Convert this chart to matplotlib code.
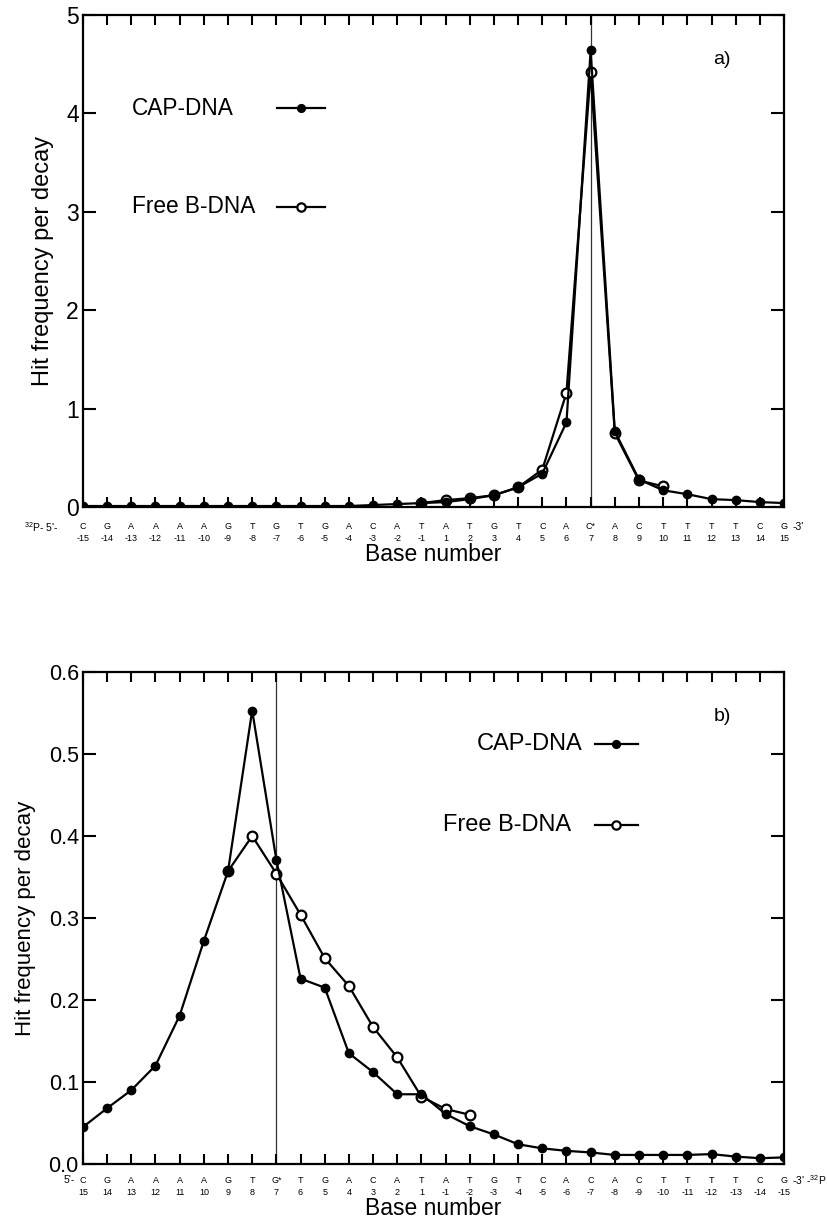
"""Hit frequency per decay along the sequence, CAP-DNA vs free B-DNA (two strands)."""

import matplotlib
matplotlib.use("Agg")
import matplotlib.pyplot as plt

plt.rcParams["font.family"] = ["Liberation Sans", "DejaVu Sans"]
plt.rcParams["mathtext.fontset"] = "custom"
plt.rcParams["mathtext.rm"] = "Liberation Sans"

# panel a) -- labelled C* strand
top_bases = ["C", "G", "A", "A", "A", "A", "G", "T", "G", "T", "G", "A", "C", "A", "T",
             "A", "T", "G", "T", "C", "A", "C*", "A", "C", "T", "T", "T", "T", "C", "G"]
top_nums = ["-15", "-14", "-13", "-12", "-11", "-10", "-9", "-8", "-7", "-6", "-5", "-4",
            "-3", "-2", "-1", "1", "2", "3", "4", "5", "6", "7", "8", "9", "10", "11",
            "12", "13", "14", "15"]
top_cap = [0.01, 0.01, 0.01, 0.01, 0.01, 0.01, 0.01, 0.01, 0.01, 0.01, 0.01, 0.01,
           0.02, 0.03, 0.04, 0.05, 0.08, 0.12, 0.20, 0.34, 0.86, 4.64, 0.77, 0.28,
           0.17, 0.13, 0.08, 0.07, 0.05, 0.04]
top_free_start = 14
top_free = [0.04, 0.07, 0.09, 0.12, 0.20, 0.38, 1.16, 4.42, 0.75, 0.27, 0.21]
top_mark = 21

# panel b) -- labelled G* strand
bot_bases = ["C", "G", "A", "A", "A", "A", "G", "T", "G*", "T", "G", "A", "C", "A", "T",
             "A", "T", "G", "T", "C", "A", "C", "A", "C", "T", "T", "T", "T", "C", "G"]
bot_nums = ["15", "14", "13", "12", "11", "10", "9", "8", "7", "6", "5", "4", "3", "2",
            "1", "-1", "-2", "-3", "-4", "-5", "-6", "-7", "-8", "-9", "-10", "-11",
            "-12", "-13", "-14", "-15"]
bot_cap = [0.045, 0.068, 0.090, 0.120, 0.181, 0.272, 0.357, 0.553, 0.371, 0.226,
           0.215, 0.135, 0.112, 0.085, 0.085, 0.061, 0.046, 0.036, 0.024, 0.019,
           0.016, 0.014, 0.011, 0.011, 0.011, 0.011, 0.012, 0.009, 0.007, 0.008]
bot_free_start = 6
bot_free = [0.357, 0.400, 0.354, 0.304, 0.251, 0.217, 0.167, 0.130, 0.082, 0.067, 0.060]
bot_mark = 8


def panel(ax, bases, nums, cap, free, free_start, mark, ymax, yticks, yfmt,
          left_end, right_end, tag, leg, ytick_fs, ylab_fs, ylab_pad, xpad, leg_fs,
          end_y, end_x):
    x = list(range(len(cap)))
    xf = list(range(free_start, free_start + len(free)))
    ax.axvline(mark, color="#333333", lw=0.9, zorder=1)
    ax.plot(xf, free, "-o", color="black", lw=1.6, ms=7, mfc="white",
            mec="black", mew=1.6, zorder=2)
    ax.plot(x, cap, "-o", color="black", lw=1.6, ms=6, zorder=3)

    ax.set_xlim(0, len(cap) - 1)
    ax.set_ylim(0, ymax)
    ax.set_xticks(x)
    ax.set_xticklabels([f"{b}\n{n}" for b, n in zip(bases, nums)],
                       fontsize=6.5, linespacing=1.45)
    ax.set_yticks(yticks)
    ax.set_yticklabels([yfmt.format(v) for v in yticks], fontsize=ytick_fs)
    ax.tick_params(axis="x", direction="in", top=True, length=7, width=1.5, pad=xpad)
    ax.tick_params(axis="y", direction="in", right=True, length=9.5, width=1.5, pad=3)
    for s in ax.spines.values():
        s.set_linewidth(1.6)

    ax.set_xlabel("Base number", fontsize=16.5, labelpad=0)
    ax.set_ylabel("Hit frequency per decay", fontsize=ylab_fs, labelpad=ylab_pad)

    ax.text(end_x, end_y, left_end, transform=ax.transAxes, fontsize=7.5,
            ha="right", va="center")
    ax.text(1.012, end_y, right_end, transform=ax.transAxes, fontsize=7.5,
            ha="left", va="center")
    ax.text(0.899, 0.909, tag, transform=ax.transAxes, fontsize=14, va="center")

    # hand-drawn key: label on the left, line sample on the right
    for (tx, ty, lx0, lx1, text, filled) in leg:
        ax.text(tx, ty, text, transform=ax.transAxes, fontsize=leg_fs, va="center")
        ax.plot([lx0, lx1], [ty, ty], "-", color="black", lw=1.6,
                transform=ax.transAxes, clip_on=False)
        ax.plot([(lx0 + lx1) / 2], [ty], "o", transform=ax.transAxes,
                color="black", ms=5 if filled else 6,
                mfc="black" if filled else "white", mew=1.6, clip_on=False)


fig = plt.figure(figsize=(8.28, 12.22), dpi=100)
ax1 = fig.add_axes([0.1002, 0.5851, 0.8467, 0.4026])
ax2 = fig.add_axes([0.1002, 0.0475, 0.8467, 0.4026])

panel(ax1, top_bases, top_nums, top_cap, top_free, top_free_start, top_mark,
      5, [0, 1, 2, 3, 4, 5], "{:g}", r"$^{32}$P- 5'-", "-3'", "a)",
      [(0.070, 0.811, 0.277, 0.345, "CAP-DNA", True),
       (0.070, 0.610, 0.277, 0.345, "Free B-DNA", False)],
      ytick_fs=16.5, ylab_fs=17, ylab_pad=9, xpad=11, leg_fs=16.3, end_y=-0.041,
      end_x=-0.035)
panel(ax2, bot_bases, bot_nums, bot_cap, bot_free, bot_free_start, bot_mark,
      0.6, [0.0, 0.1, 0.2, 0.3, 0.4, 0.5, 0.6], "{:.1f}", "5'-", r"-3' -$^{32}$P", "b)",
      [(0.562, 0.854, 0.730, 0.792, "CAP-DNA", True),
       (0.514, 0.689, 0.730, 0.792, "Free B-DNA", False)],
      ytick_fs=15.5, ylab_fs=16, ylab_pad=9, xpad=8.5, leg_fs=17, end_y=-0.0325,
      end_x=-0.012)

fig.savefig("out.png", dpi=100)
